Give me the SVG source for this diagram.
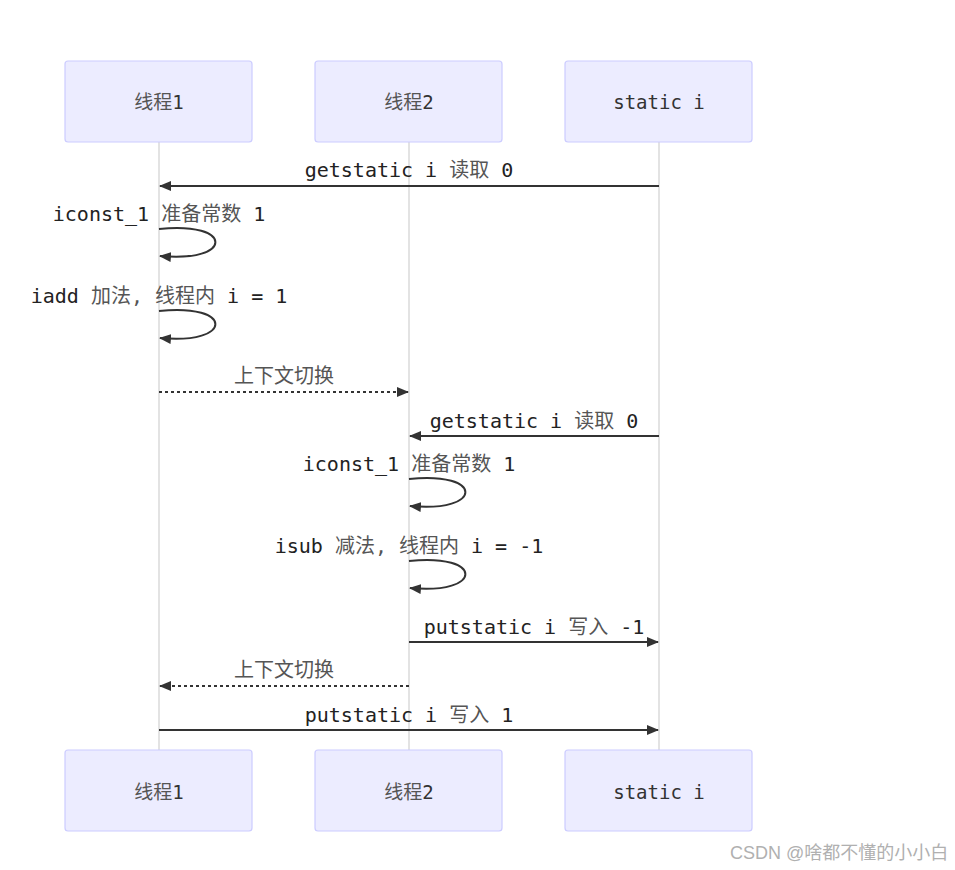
<svg xmlns="http://www.w3.org/2000/svg" width="955" height="870" viewBox="0 0 955 870">
<defs>
<style>
.actor{fill:#ECECFF;stroke:#CCCCFF;stroke-width:1.2}
.atext{font-family:"DejaVu Sans Mono","Noto Sans CJK SC",monospace;font-size:19px;fill:#333;text-anchor:middle;dominant-baseline:central}
.life{stroke:#d0d0d0;stroke-width:1.2}
.msg{stroke:#333;stroke-width:2;fill:none}
.dash{stroke:#333;stroke-width:2;fill:none;stroke-dasharray:3 3}
.mtext{font-family:"DejaVu Sans Mono","Noto Sans CJK SC",monospace;font-size:20px;fill:#222;text-anchor:middle}
.c{fill:#555}
.wm{font-family:"Liberation Sans","Noto Sans CJK SC",sans-serif;font-size:18px;fill:#b0b0b0}
</style>
<marker id="arr" viewBox="0 0 12 10" refX="11" refY="5" markerWidth="12" markerHeight="10" markerUnits="userSpaceOnUse" orient="auto">
<path d="M0,0 L12,5 L0,10 z" fill="#333"/>
</marker>
</defs>
<rect width="955" height="870" fill="#fff"/>
<g id="lifelines">
<line class="life" x1="159" y1="142" x2="159" y2="750"/>
<line class="life" x1="409" y1="142" x2="409" y2="750"/>
<line class="life" x1="659" y1="142" x2="659" y2="750"/>
</g>
<g id="actor-t1-top"><rect class="actor" x="65" y="61" width="187" height="81" rx="3"/><text class="atext" x="159" y="102"><tspan class="c">线程</tspan>1</text></g>
<g id="actor-t2-top"><rect class="actor" x="315" y="61" width="187" height="81" rx="3"/><text class="atext" x="409" y="102"><tspan class="c">线程</tspan>2</text></g>
<g id="actor-si-top"><rect class="actor" x="565" y="61" width="187" height="81" rx="3"/><text class="atext" x="659" y="102">static i</text></g>
<g id="actor-t1-bot"><rect class="actor" x="65" y="750" width="187" height="81" rx="3"/><text class="atext" x="159" y="792"><tspan class="c">线程</tspan>1</text></g>
<g id="actor-t2-bot"><rect class="actor" x="315" y="750" width="187" height="81" rx="3"/><text class="atext" x="409" y="792"><tspan class="c">线程</tspan>2</text></g>
<g id="actor-si-bot"><rect class="actor" x="565" y="750" width="187" height="81" rx="3"/><text class="atext" x="659" y="792">static i</text></g>
<g id="connectors">
<line class="msg" x1="659" y1="186" x2="160" y2="186" marker-end="url(#arr)"/>
<path class="msg" d="M159,229 C234,221 234,263 160,256" marker-end="url(#arr)"/>
<path class="msg" d="M159,311 C234,303 234,345 160,338" marker-end="url(#arr)"/>
<line class="dash" x1="159" y1="392" x2="408" y2="392" marker-end="url(#arr)"/>
<line class="msg" x1="659" y1="436" x2="410" y2="436" marker-end="url(#arr)"/>
<path class="msg" d="M409,479 C484,471 484,513 410,506" marker-end="url(#arr)"/>
<path class="msg" d="M409,561 C484,553 484,595 410,588" marker-end="url(#arr)"/>
<line class="msg" x1="409" y1="642" x2="658" y2="642" marker-end="url(#arr)"/>
<line class="dash" x1="409" y1="686" x2="160" y2="686" marker-end="url(#arr)"/>
<line class="msg" x1="159" y1="730" x2="658" y2="730" marker-end="url(#arr)"/>
</g>
<g id="labels">
<text class="mtext" x="409" y="177">getstatic i <tspan class="c">读取</tspan> 0</text>
<text class="mtext" x="159" y="221">iconst_1 <tspan class="c">准备常数</tspan> 1</text>
<text class="mtext" x="159" y="303">iadd <tspan class="c">加法, 线程内</tspan> i = 1</text>
<text class="mtext c" x="284" y="383">上下文切换</text>
<text class="mtext" x="534" y="428">getstatic i <tspan class="c">读取</tspan> 0</text>
<text class="mtext" x="409" y="471">iconst_1 <tspan class="c">准备常数</tspan> 1</text>
<text class="mtext" x="409" y="553">isub <tspan class="c">减法, 线程内</tspan> i = -1</text>
<text class="mtext" x="534" y="634">putstatic i <tspan class="c">写入</tspan> -1</text>
<text class="mtext c" x="284" y="677">上下文切换</text>
<text class="mtext" x="409" y="722">putstatic i <tspan class="c">写入</tspan> 1</text>
</g>
<text class="wm" x="730" y="859">CSDN @啥都不懂的小小白</text>
</svg>
